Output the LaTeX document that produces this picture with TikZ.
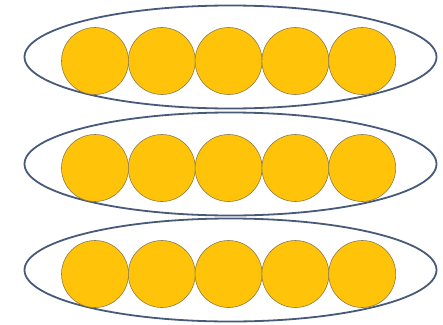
\documentclass[tikz,border=0pt]{standalone}
\usetikzlibrary{shapes.geometric}

\definecolor{gold}{HTML}{FFC40A}
\definecolor{goldline}{HTML}{8C7A4A}
\definecolor{ringline}{HTML}{475A7A}

\begin{document}
\begin{tikzpicture}[x=1pt, y=-1pt,
  every node/.style={inner sep=0pt, outer sep=0pt},
  ring/.style={draw=ringline, line width=1.8pt, ellipse, minimum width=412pt, minimum height=103pt},
  ball/.style={draw=goldline, line width=0.6pt, fill=gold, circle, minimum size=67pt}]
\useasboundingbox (0,0) rectangle (443,324);
\foreach \r/\y in {1/57, 2/164, 3/270} {
  \node[ring] (ring\r) at (230.5,\y) {};
  \foreach \c in {1,...,5}
    \node[ball] (ball\r\c) at ({95+66.8*(\c-1)},\y+4) {};
}
\end{tikzpicture}
\end{document}
